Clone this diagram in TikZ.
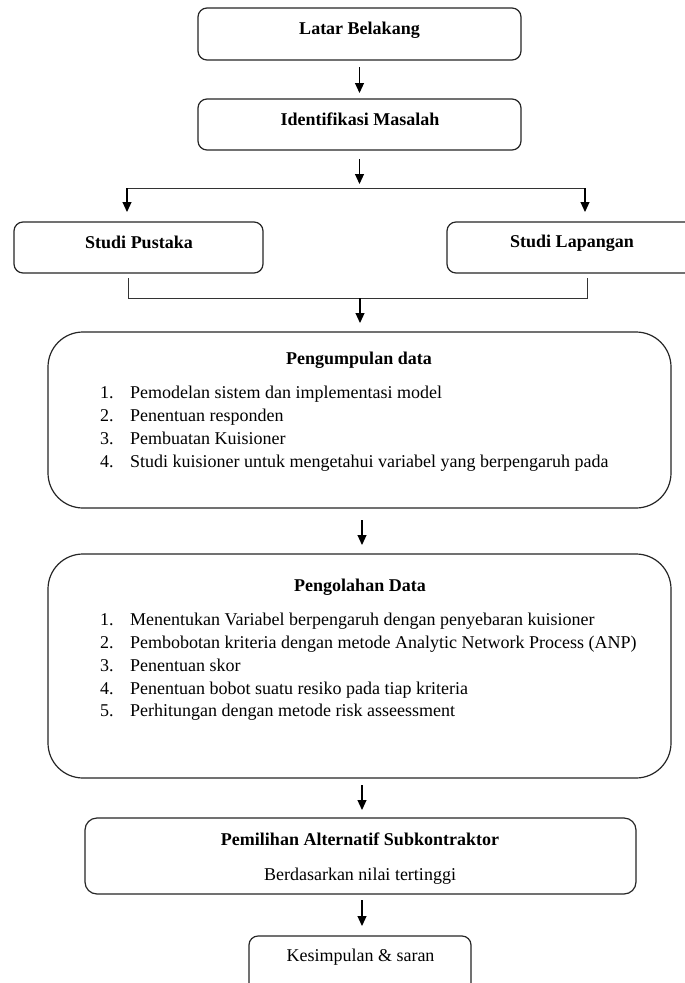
\documentclass[tikz,border=0pt]{standalone}
\usepackage{fontspec}
\setmainfont{Liberation Serif}
\usetikzlibrary{arrows.meta}
\begin{document}
\begin{tikzpicture}[x=1pt,y=-1pt,
  box/.style={draw=black!85,line width=1.2pt,rounded corners=9pt,inner sep=0pt,outer sep=0pt},
  bigbox/.style={box,rounded corners=35pt},
  ttl/.style={inner sep=0pt,font=\fontsize{18}{22}\selectfont\bfseries,anchor=base},
  txt/.style={inner sep=0pt,font=\fontsize{18}{22}\selectfont,anchor=base},
  itm/.style={inner sep=0pt,font=\fontsize{18}{22}\selectfont,anchor=base west},
  arr/.style={draw=black,line width=1.1pt,-{Triangle[length=10pt,width=9pt]}},
  ln/.style={draw=black!80,line width=0.9pt}]
\useasboundingbox (0,0) rectangle (685,983);
\fill[white] (0,0) rectangle (685,983);
% boxes
\node[box,minimum width=323pt,minimum height=52pt] (latar) at (359.5,34) {};
\node[box,minimum width=323pt,minimum height=51pt] (ident) at (359.5,124.5) {};
\node[box,minimum width=249pt,minimum height=51pt] (pustaka) at (138.5,247.5) {};
\node[box,minimum width=250pt,minimum height=51pt] (lapangan) at (572,247.5) {};
\node[bigbox,minimum width=623pt,minimum height=176pt] (kumpul) at (359.5,420) {};
\node[bigbox,minimum width=623pt,minimum height=224pt] (olah) at (359.5,666) {};
\node[box,rounded corners=12pt,minimum width=551pt,minimum height=76pt] (pilih) at (360.5,856) {};
\node[box,minimum width=222pt,minimum height=56pt] (kesim) at (360,964) {};
% texts
\node[ttl] (latarT) at (359.5,34) {Latar Belakang};
\node[ttl] (identT) at (360,125) {Identifikasi Masalah};
\node[ttl] (pustakaT) at (139,248) {Studi Pustaka};
\node[ttl] (lapanganT) at (572,247) {Studi Lapangan};
\node[ttl] (kumpulT) at (359,364) {Pengumpulan data};
\node[itm] (k1) at (100,398) {\makebox[30pt][l]{1.}Pemodelan sistem dan implementasi model};
\node[itm] (k2) at (100,421) {\makebox[30pt][l]{2.}Penentuan responden};
\node[itm] (k3) at (100,444) {\makebox[30pt][l]{3.}Pembuatan Kuisioner};
\node[itm] (k4) at (100,467) {\makebox[30pt][l]{4.}Studi kuisioner untuk mengetahui variabel yang berpengaruh pada};
\node[ttl] (olahT) at (360,591) {Pengolahan Data};
\node[itm] (o1) at (100,625) {\makebox[30pt][l]{1.}Menentukan Variabel berpengaruh dengan penyebaran kuisioner};
\node[itm] (o2) at (100,648) {\makebox[30pt][l]{2.}Pembobotan kriteria dengan metode Analytic Network Process (ANP)};
\node[itm] (o3) at (100,671) {\makebox[30pt][l]{3.}Penentuan skor};
\node[itm] (o4) at (100,694) {\makebox[30pt][l]{4.}Penentuan bobot suatu resiko pada tiap kriteria};
\node[itm] (o5) at (100,716) {\makebox[30pt][l]{5.}Perhitungan dengan metode risk asseessment};
\node[ttl] (pilihT) at (360,845) {Pemilihan Alternatif Subkontraktor};
\node[txt] (pilihS) at (360,880) {Berdasarkan nilai tertinggi};
\node[txt] (kesimT) at (360.5,961) {Kesimpulan \& saran};
% connectors
\draw[arr,shorten <=7pt,shorten >=6pt] (latar) -- (ident);
\coordinate (split) at (359.5,188);
\coordinate (splitL) at (127,188);
\coordinate (splitR) at (585,188);
\draw[arr,shorten <=9pt,shorten >=4pt] (ident) -- (split);
\draw[ln] (splitL) -- (splitR);
\draw[arr,shorten >=10pt] (splitL) -- (pustaka.north -| splitL);
\draw[arr,shorten >=10pt] (splitR) -- (lapangan.north -| splitR);
\coordinate (joinL) at (128,298);
\coordinate (joinR) at (587,298);
\coordinate (joinM) at (360,298);
\draw[ln,shorten <=5pt,shorten >=5pt] (pustaka.south -| joinL) -- (joinL) -- (joinR) -- (lapangan.south -| joinR);
\draw[arr,shorten >=9pt] (joinM) -- (kumpul.north -| joinM);
\coordinate (a3) at (362,508);
\draw[arr,shorten <=12pt,shorten >=9pt] (kumpul.south -| a3) -- (olah.north -| a3);
\coordinate (a4) at (362,778);
\draw[arr,shorten <=7pt,shorten >=8pt] (olah.south -| a4) -- (pilih.north -| a4);
\coordinate (a5) at (362,894);
\draw[arr,shorten <=6pt,shorten >=10pt] (pilih.south -| a5) -- (kesim.north -| a5);
\end{tikzpicture}
\end{document}
